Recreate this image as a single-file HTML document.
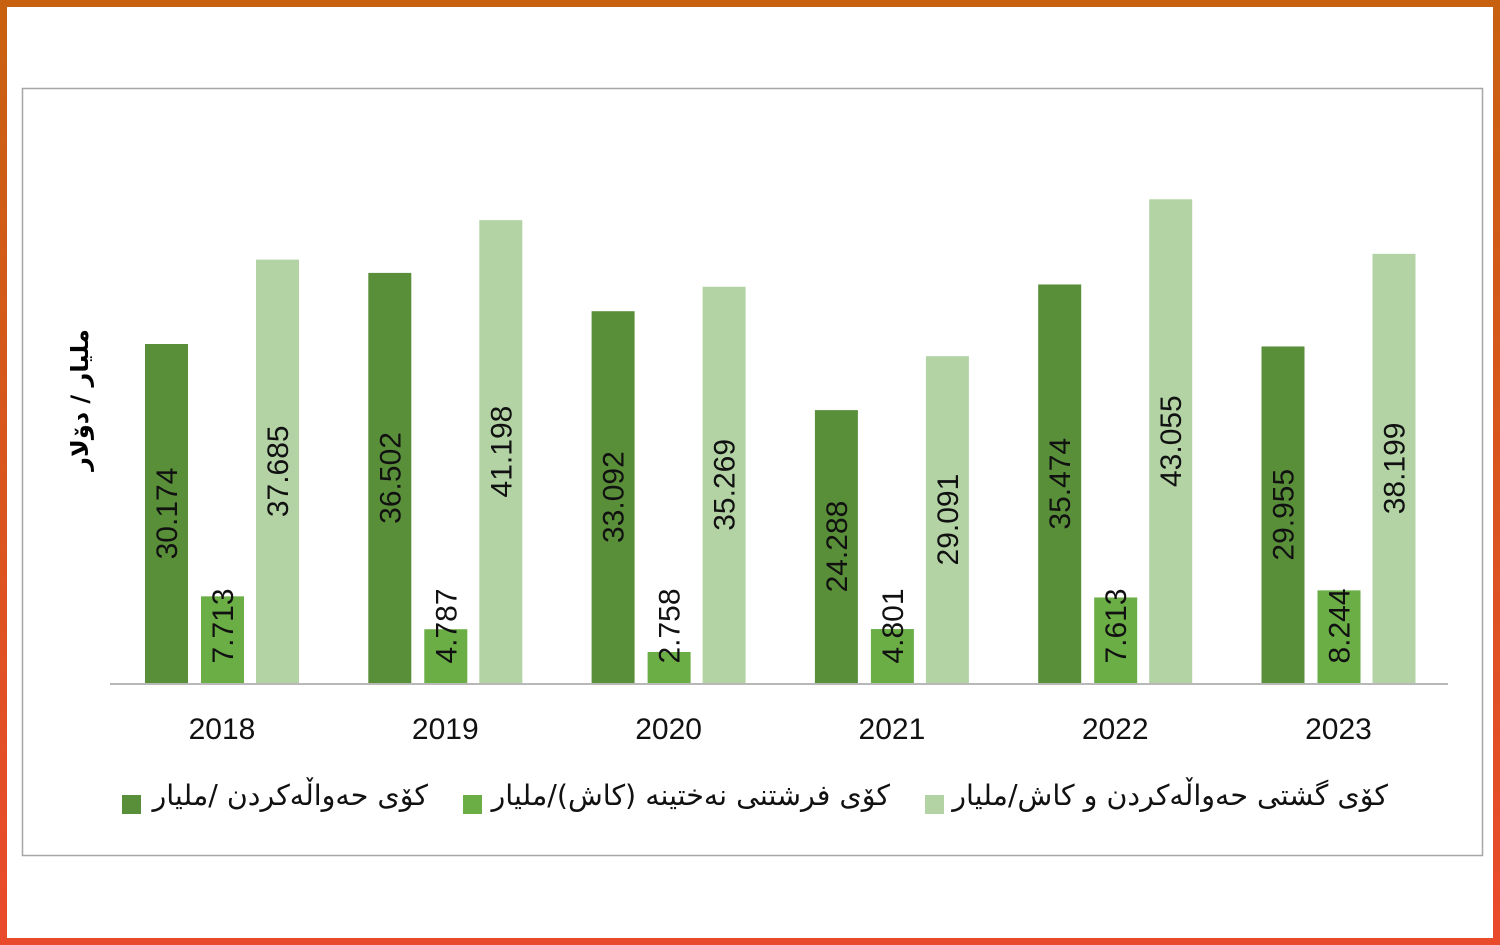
<!DOCTYPE html>
<html><head><meta charset="utf-8"><style>
html,body{margin:0;padding:0}
body{width:1500px;height:945px;position:relative;overflow:hidden;background:linear-gradient(#c8610f,#ea4a2c)}
#inner{position:absolute;left:7px;top:7px;width:1486px;height:931px;background:#fff}
.t{position:absolute;font-family:"DejaVu Sans","Liberation Sans",sans-serif;font-size:28.5px;color:#111;direction:rtl;text-align:right;white-space:nowrap}
</style></head><body>
<div id="inner"></div>
<svg style="position:absolute;left:0;top:0" width="1500" height="945" font-family="Liberation Sans, DejaVu Sans, sans-serif">
<rect x="22.5" y="88.5" width="1460" height="767" fill="#fff" stroke="#a6a6a6" stroke-width="1.5"/>
<g id="bars"></g>
<line x1="110" y1="684" x2="1448" y2="684" stroke="#a0a0a0" stroke-width="1.5"/>
<rect x="122" y="795" width="19" height="19" fill="#5a8f3a"/>
<rect x="463" y="795" width="19" height="19" fill="#6aae45"/>
<rect x="925" y="795" width="19" height="19" fill="#b3d3a5"/>
<text transform="translate(88,400) rotate(-90)" text-anchor="middle" font-family="DejaVu Sans, sans-serif" font-weight="bold" font-size="24" direction="rtl">ملیار / دۆلار</text>
</svg>
<div class="t" style="right:1072px;top:779px">کۆی حەواڵەکردن /ملیار</div>
<div class="t" style="right:610px;top:779px">کۆی فرشتنی نەختینە (کاش)/ملیار</div>
<div class="t" style="right:112px;top:779px">کۆی گشتی حەواڵەکردن و کاش/ملیار</div>
<script>
var d=[[30.174,7.713,37.685],[36.502,4.787,41.198],[33.092,2.758,35.269],[24.288,4.801,29.091],[35.474,7.613,43.055],[29.955,8.244,38.199]];
var c=["#5a8f3a","#6aae45","#b3d3a5"],off=[0,56,111],s="";
for(var i=0;i<6;i++){var x0=145+223.3*i;
for(var j=0;j<3;j++){var v=d[i][j],h=v*11.235,x=x0+off[j],y=683-h;
s+='<rect x="'+x+'" y="'+y+'" width="43" height="'+h+'" fill="'+c[j]+'"/>';
var cy=Math.min(683-h/2,626);
s+='<text transform="translate('+(x+32)+','+cy+') rotate(-90)" text-anchor="middle" font-size="30" fill="#111">'+v.toFixed(3)+'</text>';}
s+='<text x="'+(x0+77)+'" y="739" text-anchor="middle" font-size="30" fill="#111">'+(2018+i)+'</text>';}
document.getElementById("bars").innerHTML=s;
</script>
</body></html>
